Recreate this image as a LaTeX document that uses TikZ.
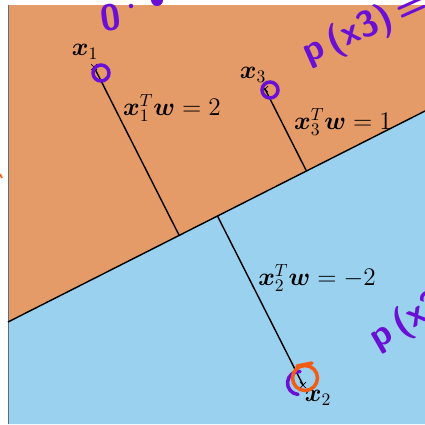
\documentclass[tikz,border=0pt]{standalone}
\usepackage{amsmath,amssymb}
\usepackage{tikz}
\usetikzlibrary{calc, shapes.misc}
\definecolor{RegionOrange}{HTML}{E49B67}
\definecolor{RegionBlue}{HTML}{9AD1EF}
\definecolor{InkPurple}{HTML}{6A0FD6}
\definecolor{InkOrange}{HTML}{F25C14}
\definecolor{FrameGray}{HTML}{5F6E7A}
\tikzset{
    % Point and line styles
    datapoint/.style={
        cross out,
        draw=black,
        thin,
        minimum size=3pt,
        inner sep=0pt
    },
    distline/.style={
        draw=black,
        thick
    },
    boundary/.style={
        draw=black,
        thick
    },
    % Text styles
    mathlabel/.style={
        font=\Large,
        inner sep=1pt
    },
    % Handwritten ink styles
    inkcircle/.style={
        draw=InkPurple,
        line width=2pt,
        line cap=round
    },
    inktext/.style={
        text=InkPurple,
        font=\huge\sffamily\bfseries,
        inner sep=0pt
    }
}

\begin{document}
\begin{tikzpicture}[x=0.02cm, y=-0.02cm]
    \useasboundingbox (0,0) rectangle (425,424);
    \clip (0,0) rectangle (425,424);

    % Decision boundary end points
    \coordinate (b1) at (8,322);
    \coordinate (b2) at (425,111);

    % Regions
    \fill[RegionOrange] (8,5) -- (425,5) -- (b2) -- (b1) -- cycle;
    \fill[RegionBlue] (b1) -- (b2) -- (425,424) -- (8,424) -- cycle;
    \draw[FrameGray, thin] (8,5) -- (8,424);
    \draw[boundary] (b1) -- (b2);

    % Data points
    \node[datapoint] (x1) at (94,67) {};
    \node[datapoint] (x3) at (265,89) {};
    \node[datapoint] (x2) at (303,385) {};

    % Projections onto the boundary
    \coordinate (f1) at ($(b1)!(x1.center)!(b2)$);
    \coordinate (f3) at ($(b1)!(x3.center)!(b2)$);
    \coordinate (f2) at ($(b1)!(x2.center)!(b2)$);
    \draw[distline] (x1.center) -- (f1);
    \draw[distline] (x3.center) -- (f3);
    \draw[distline] (x2.center) -- (f2);

    % Point labels
    \node[mathlabel] (lx1) at (85,52) {$\boldsymbol{x}_1$};
    \node[mathlabel] (lx3) at (253,75) {$\boldsymbol{x}_3$};
    \node[mathlabel] (lx2) at (318,398) {$\boldsymbol{x}_2$};

    % Scores
    \node[mathlabel] (s1) at (172,108) {$\boldsymbol{x}_1^T\boldsymbol{w} = 2$};
    \node[mathlabel] (s3) at (343,122) {$\boldsymbol{x}_3^T\boldsymbol{w} = 1$};
    \node[mathlabel] (s2) at (317,278) {$\boldsymbol{x}_2^T\boldsymbol{w} = -2$};

    % Handwritten marks
    \draw[inkcircle] (101,73) circle (0.16cm);
    \draw[inkcircle] (270,90) circle (0.16cm);
    \coordinate (c2) at (299,383);
    \draw[inkcircle] (c2) ++(85:0.23cm) arc[start angle=85, end angle=265, radius=0.23cm];
    \draw[InkOrange, line width=2pt, line cap=round] (305,378) circle (0.25cm);
    \draw[InkOrange, line width=2pt, line cap=round] (297,366) -- (312,363);
    \draw[InkOrange, line width=1pt] (0,174) -- (2,178);

    \node[inktext, anchor=base west, rotate=8] (h0) at (102,32) {0};
    \fill[InkPurple] (131,6) circle (0.045cm);
    \fill[InkPurple] (157,0) circle (0.12cm);
    \node[inktext, anchor=base west, rotate=24] (h3) at (308,64) {p\,(x3)\,=};
    \node[inktext, anchor=base west, rotate=30] (h2) at (377,350) {p\,(x2) =};
\end{tikzpicture}
\end{document}
